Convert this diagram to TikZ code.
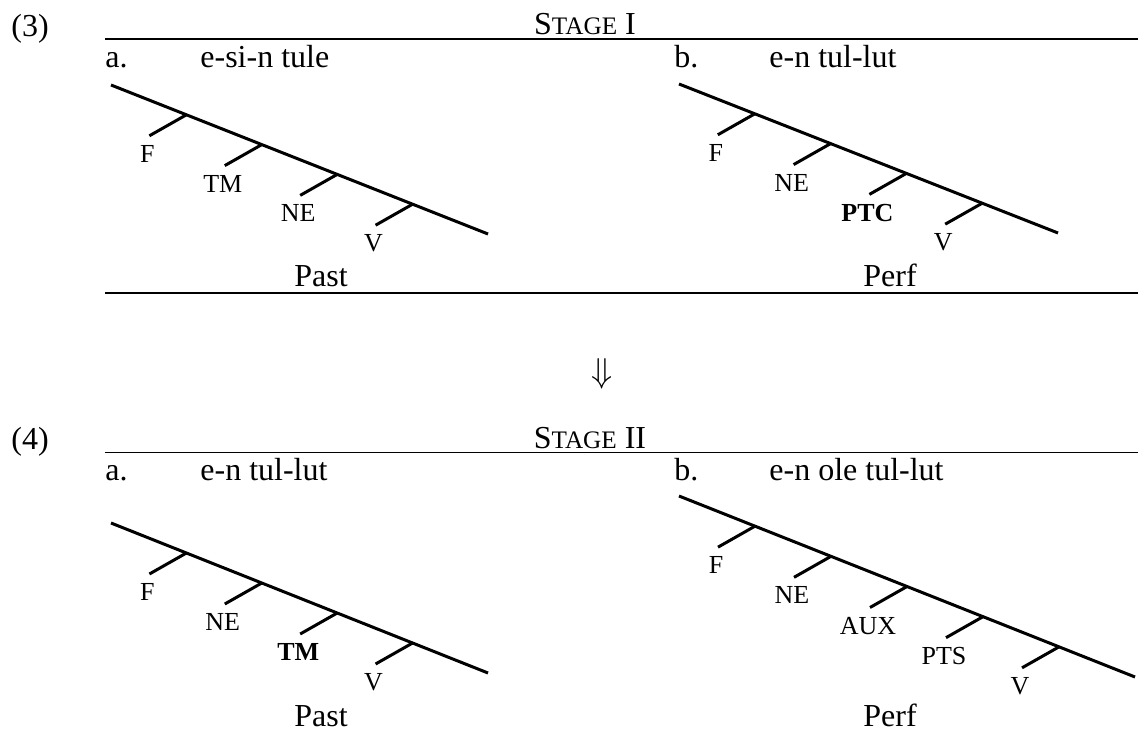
\documentclass[tikz,border=0pt]{standalone}
\usepackage{fontspec}
\setmainfont{Liberation Serif}
\usetikzlibrary{calc}

% small-caps look for the stage headings
\newcommand{\stagehead}[1]{S{\fontsize{12.6}{14}\selectfont TAGE}\ #1}

\begin{document}
\begin{tikzpicture}[
		x=0.5pt, y=-0.5pt,
		every node/.style={inner sep=0pt, font=\fontsize{16}{19}\selectfont},
		spine/.style={line width=1.5pt},
		rulebar/.style={line width=0.75pt},
		txt/.style={anchor=base west},
		lbl/.style={anchor=north, yshift=-4.5pt, xshift=-1pt,
				font=\fontsize{13}{15}\selectfont}
	]
	\useasboundingbox (0,0) rectangle (1138,731);

	% stage I
	\node[txt] (ex3) at (11,37) {(3)};
	\coordinate (r1a) at (105,39);
	\coordinate (r1b) at (1138,39);
	\draw[rulebar] (r1a) -- (r1b);
	\node[anchor=base] (stage1) at (585,35) {\stagehead{I}};

	\node[txt] (a3) at (105,68) {a.};
	\node[txt] (a3form) at (200,68) {e-si-n tule};
	\node[txt] (b3) at (674,68) {b.};
	\node[txt] (b3form) at (769,68) {e-n tul-lut};

	\coordinate (s3a) at (111,85);
	\coordinate (e3a) at (488,234);
	\draw[spine] (s3a) -- (e3a);
	\foreach \lab [count=\i] in {F,TM,NE,V} {
			\coordinate (t3a\i) at ($(s3a)!\i/5!(e3a)$);
			\coordinate (f3a\i) at ($(t3a\i)+(-37,21)$);
			\draw[spine] (t3a\i) -- (f3a\i);
			\node[lbl] (l3a\i) at (f3a\i) {\lab};
		}

	\coordinate (s3b) at (679,84);
	\coordinate (e3b) at (1058,233);
	\draw[spine] (s3b) -- (e3b);
	\foreach \lab [count=\i] in {F,NE,\textbf{PTC},V} {
			\coordinate (t3b\i) at ($(s3b)!\i/5!(e3b)$);
			\coordinate (f3b\i) at ($(t3b\i)+(-37,21)$);
			\draw[spine] (t3b\i) -- (f3b\i);
			\node[lbl] (l3b\i) at (f3b\i) {\lab};
		}

	\node[anchor=base] (past3) at (321,287) {Past};
	\node[anchor=base] (perf3) at (890,287) {Perf};
	\coordinate (r2a) at (105,293);
	\coordinate (r2b) at (1138,293);
	\draw[rulebar] (r2a) -- (r2b);

	\node[font=\fontsize{18}{20}\selectfont] (step) at (602,374) {$\Downarrow$};

	% stage II
	\node[txt] (ex4) at (11,449) {(4)};
	\coordinate (r3a) at (105,452.5);
	\coordinate (r3b) at (1138,452.5);
	\draw[rulebar] (r3a) -- (r3b);
	\node[anchor=base] (stage2) at (590,448) {\stagehead{II}};

	\node[txt] (a4) at (105,480) {a.};
	\node[txt] (a4form) at (200,480) {e-n tul-lut};
	\node[txt] (b4) at (674,480) {b.};
	\node[txt] (b4form) at (769,480) {e-n ole tul-lut};

	\coordinate (s4a) at (111,523);
	\coordinate (e4a) at (488,673);
	\draw[spine] (s4a) -- (e4a);
	\foreach \lab [count=\i] in {F,NE,\textbf{TM},V} {
			\coordinate (t4a\i) at ($(s4a)!\i/5!(e4a)$);
			\coordinate (f4a\i) at ($(t4a\i)+(-37,21)$);
			\draw[spine] (t4a\i) -- (f4a\i);
			\node[lbl] (l4a\i) at (f4a\i) {\lab};
		}

	\coordinate (s4b) at (679,496);
	\coordinate (e4b) at (1135,677);
	\draw[spine] (s4b) -- (e4b);
	\foreach \lab [count=\i] in {F,NE,AUX,PTS,V} {
			\coordinate (t4b\i) at ($(s4b)!\i/6!(e4b)$);
			\coordinate (f4b\i) at ($(t4b\i)+(-37,21)$);
			\draw[spine] (t4b\i) -- (f4b\i);
			\node[lbl] (l4b\i) at (f4b\i) {\lab};
		}

	\node[anchor=base] (past4) at (321,726) {Past};
	\node[anchor=base] (perf4) at (890,726) {Perf};
\end{tikzpicture}
\end{document}
